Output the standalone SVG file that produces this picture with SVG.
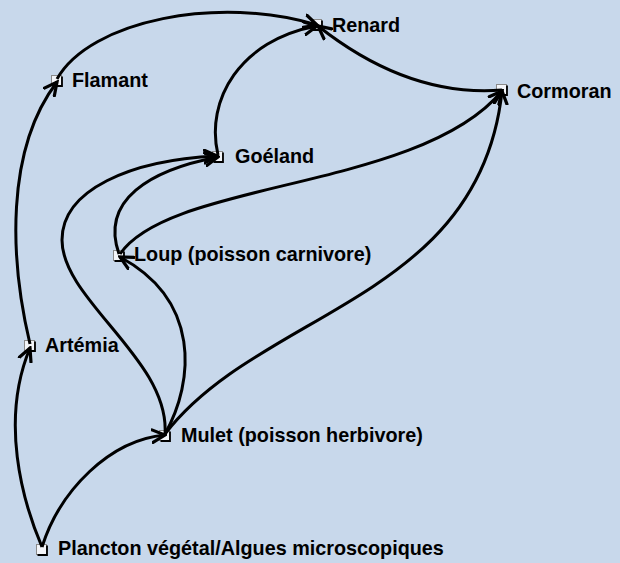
<svg xmlns="http://www.w3.org/2000/svg" width="620" height="563" viewBox="0 0 620 563">
<defs>
<marker id="arr" markerUnits="userSpaceOnUse" markerWidth="16" markerHeight="16" viewBox="0 0 14 14" refX="12" refY="7" orient="auto">
<path d="M1,1.5 L12,7 L1,12.5" fill="none" stroke="#000" stroke-width="2.8" stroke-linecap="round" stroke-linejoin="miter"/>
</marker>
<g id="sq">
<rect x="-5.5" y="-5.5" width="10" height="10" fill="#f3f5f9" stroke="#8a8a8a" stroke-width="1"/>
<path d="M5,-4.5 V5 H-4.5" fill="none" stroke="#000" stroke-width="1.8"/>
</g>
</defs>
<style>
.lbl{font-family:"Liberation Sans",Arial,sans-serif;font-weight:bold;font-size:19.8px;fill:#000}
.e{fill:none;stroke:#000;stroke-width:3;marker-end:url(#arr)}
</style>
<rect width="620" height="563" fill="#c8d8eb"/>
<g id="nodes">
<g id="renard"><use href="#sq" x="317" y="25"/><text class="lbl" x="332" y="32">Renard</text></g>
<g id="flamant"><use href="#sq" x="57" y="81"/><text class="lbl" x="72" y="87">Flamant</text></g>
<g id="cormoran"><use href="#sq" x="502" y="90"/><text class="lbl" x="517" y="98">Cormoran</text></g>
<g id="goeland"><use href="#sq" x="218" y="157"/><text class="lbl" x="235" y="163">Goéland</text></g>
<g id="loup"><use href="#sq" x="119" y="256"/><text class="lbl" x="134" y="261">Loup (poisson carnivore)</text></g>
<g id="artemia"><use href="#sq" x="30" y="346"/><text class="lbl" x="45" y="352">Artémia</text></g>
<g id="mulet"><use href="#sq" x="165" y="436"/><text class="lbl" x="181" y="442">Mulet (poisson herbivore)</text></g>
<g id="plancton"><use href="#sq" x="42" y="550"/><text class="lbl" x="58" y="555">Plancton végétal/Algues microscopiques</text></g>
</g>
<g id="connectors">
<path class="e" d="M42,547 C22,500 0,420 30,348"/>
<path class="e" d="M42,547 C60,490 110,440 165,435"/>
<path class="e" d="M30,344 C10,260 5,150 57,82"/>
<path class="e" d="M57,79 C90,20 220,-5 317,25"/>
<path class="e" d="M218,155 C205,100 240,40 317,26"/>
<path class="e" d="M502,90 C440,95 380,75 318,26"/>
<path class="e" d="M119,254 C100,200 150,170 218,157"/>
<path class="e" d="M165,434 C170,360 62,300 62,240 C62,190 130,160 217,156"/>
<path class="e" d="M165,434 C195,380 200,300 120,257"/>
<path class="e" d="M165,434 C260,310 480,300 502,91"/>
<path class="e" d="M120,254 C170,180 420,190 502,91"/>
</g>
</svg>
